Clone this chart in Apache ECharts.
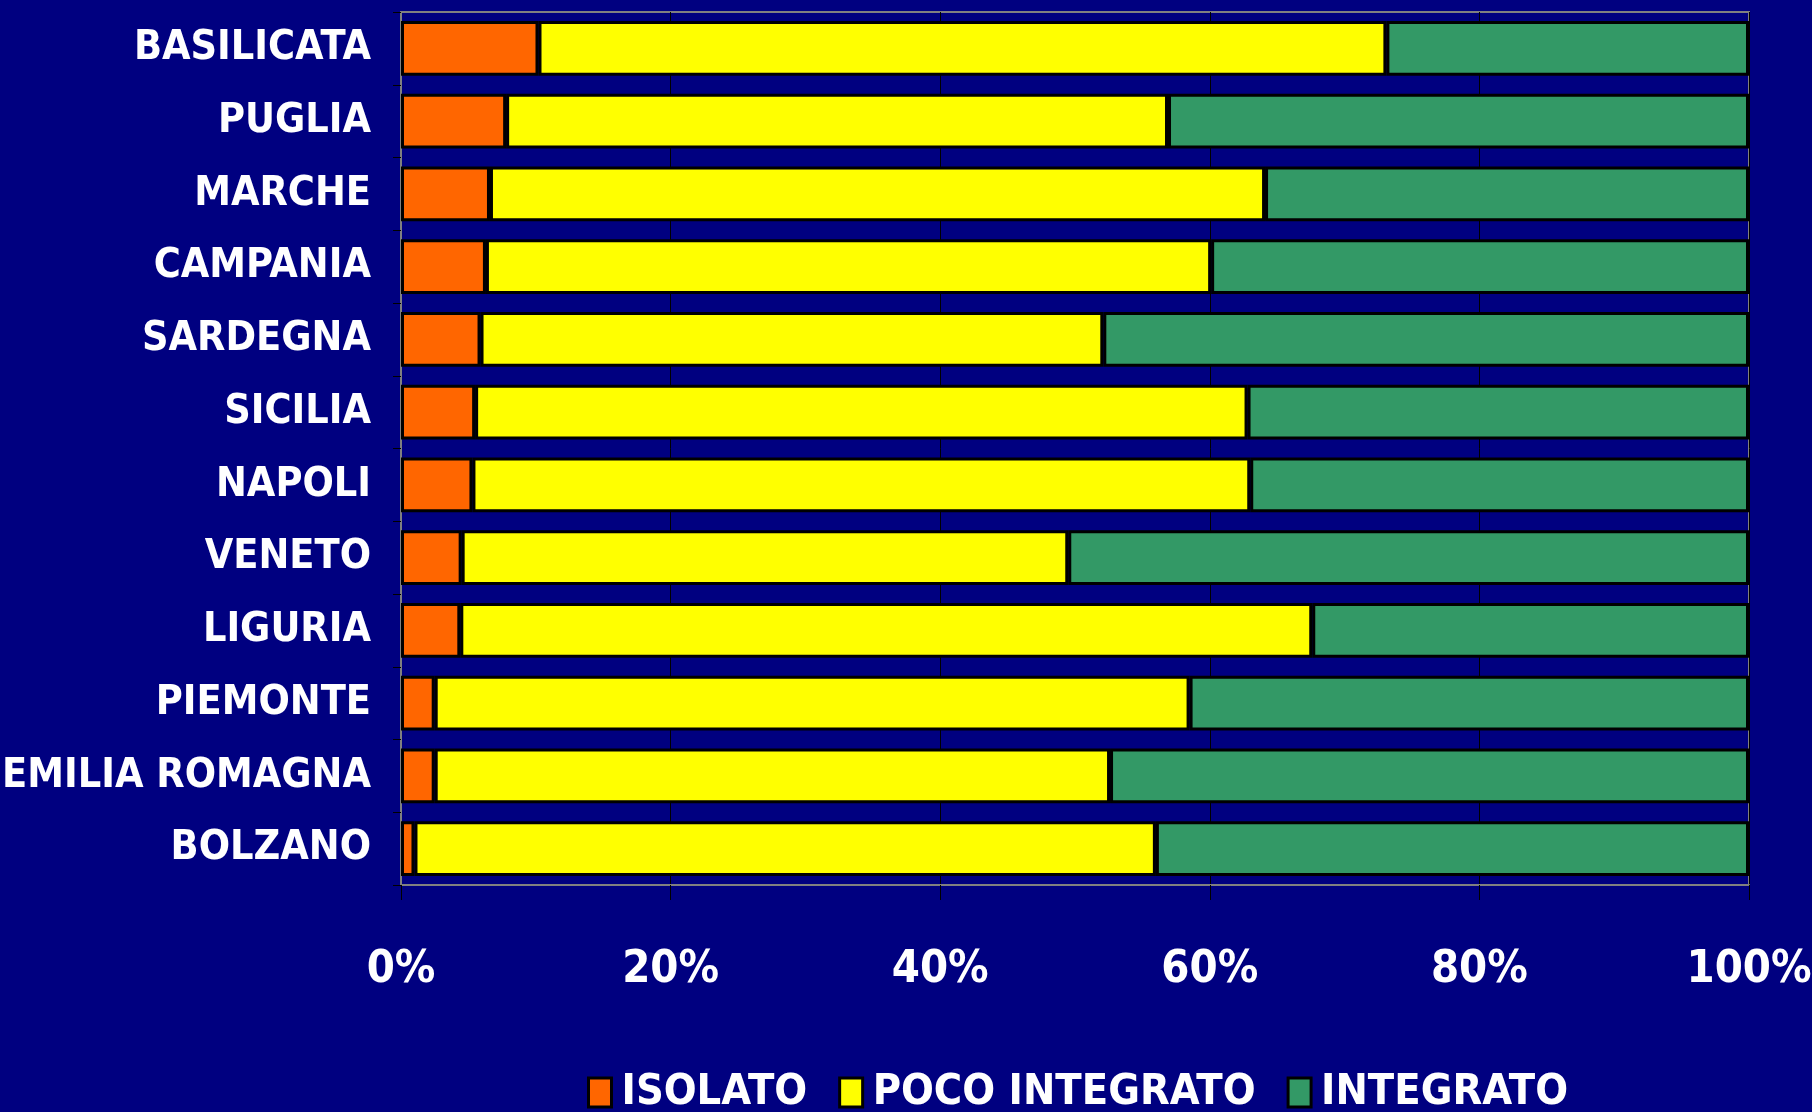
<!DOCTYPE html>
<html>
<head>
<meta charset="utf-8">
<script src="https://cdn.jsdelivr.net/npm/echarts@6/dist/echarts.min.js"></script>
<style>
  html, body { margin: 0; padding: 0; background: #000080; }
  #chart { width: 1812px; height: 1112px; }
</style>
</head>
<body>
<div id="chart"></div>
<script>
// regioni, dall'alto in basso
const regioni = ['BASILICATA', 'PUGLIA', 'MARCHE', 'CAMPANIA', 'SARDEGNA', 'SICILIA',
  'NAPOLI', 'VENETO', 'LIGURIA', 'PIEMONTE', 'EMILIA ROMAGNA', 'BOLZANO']
// percentuali
const isolato = [10.2, 7.8, 6.6, 6.3, 5.9, 5.5, 5.3, 4.5, 4.4, 2.5, 2.5, 1.0]
const pocoIntegrato = [62.9, 49.1, 57.5, 53.8, 46.2, 57.3, 57.7, 45.0, 63.2, 56.0, 50.1, 55.0]
const integrato = [26.9, 43.1, 35.9, 39.9, 47.9, 37.2, 37.0, 50.5, 32.4, 41.5, 47.4, 44.0]
const ticks = [0, 20, 40, 60, 80, 100]

const font = "'Liberation Sans Narrow', 'DejaVu Sans Condensed', 'Arial Narrow', sans-serif"

let chart = echarts.init(document.getElementById('chart'))

function serie (name, data, color) {
  return {
    name: name,
    type: 'bar',
    stack: 'tot',
    barCategoryGap: '25%',
    data: data,
    itemStyle: { color: color, borderColor: '#000', borderWidth: 3 }
  }
}

chart.setOption({
  backgroundColor: '#000080',
  animation: false,
  grid: {
    left: 401, right: 63, top: 12, bottom: 227,
    outerBoundsMode: 'none',
    containLabel: false,
    show: true, borderColor: '#808080', borderWidth: 2
  },
  xAxis: {
    type: 'value',
    min: ticks[0],
    max: ticks[ticks.length - 1],
    interval: 20,
    axisLine: { show: true, lineStyle: { color: '#808080', width: 2 } },
    axisTick: { show: true, length: 15, lineStyle: { color: '#000' } },
    splitLine: { show: true, lineStyle: { color: '#000', width: 1 } },
    axisLabel: {
      color: '#fff', fontFamily: font, fontWeight: 'bold', fontSize: 45,
      margin: 63, formatter: '{value}%'
    }
  },
  yAxis: {
    type: 'category',
    data: regioni,
    inverse: true,
    axisLine: { show: true, lineStyle: { color: '#808080', width: 2 } },
    axisTick: { show: true, length: 8, inside: false, lineStyle: { color: '#000' } },
    axisLabel: {
      color: '#fff', fontFamily: font, fontWeight: 'bold', fontSize: 41, margin: 30
    }
  },
  legend: {
    left: 582,
    top: 1066,
    itemWidth: 23,
    itemHeight: 29,
    itemGap: 31,
    icon: 'rect',
    itemStyle: { borderColor: '#000', borderWidth: 3 },
    textStyle: {
      color: '#fff', fontFamily: font, fontWeight: 'bold', fontSize: 43,
      padding: [0, 0, 0, 5]
    },
    data: ['ISOLATO', 'POCO INTEGRATO', 'INTEGRATO']
  },
  series: [
    serie('ISOLATO', isolato, '#FF6600'),
    serie('POCO INTEGRATO', pocoIntegrato, '#FFFF00'),
    serie('INTEGRATO', integrato, '#339966')
  ]
})
</script>
</body>
</html>
